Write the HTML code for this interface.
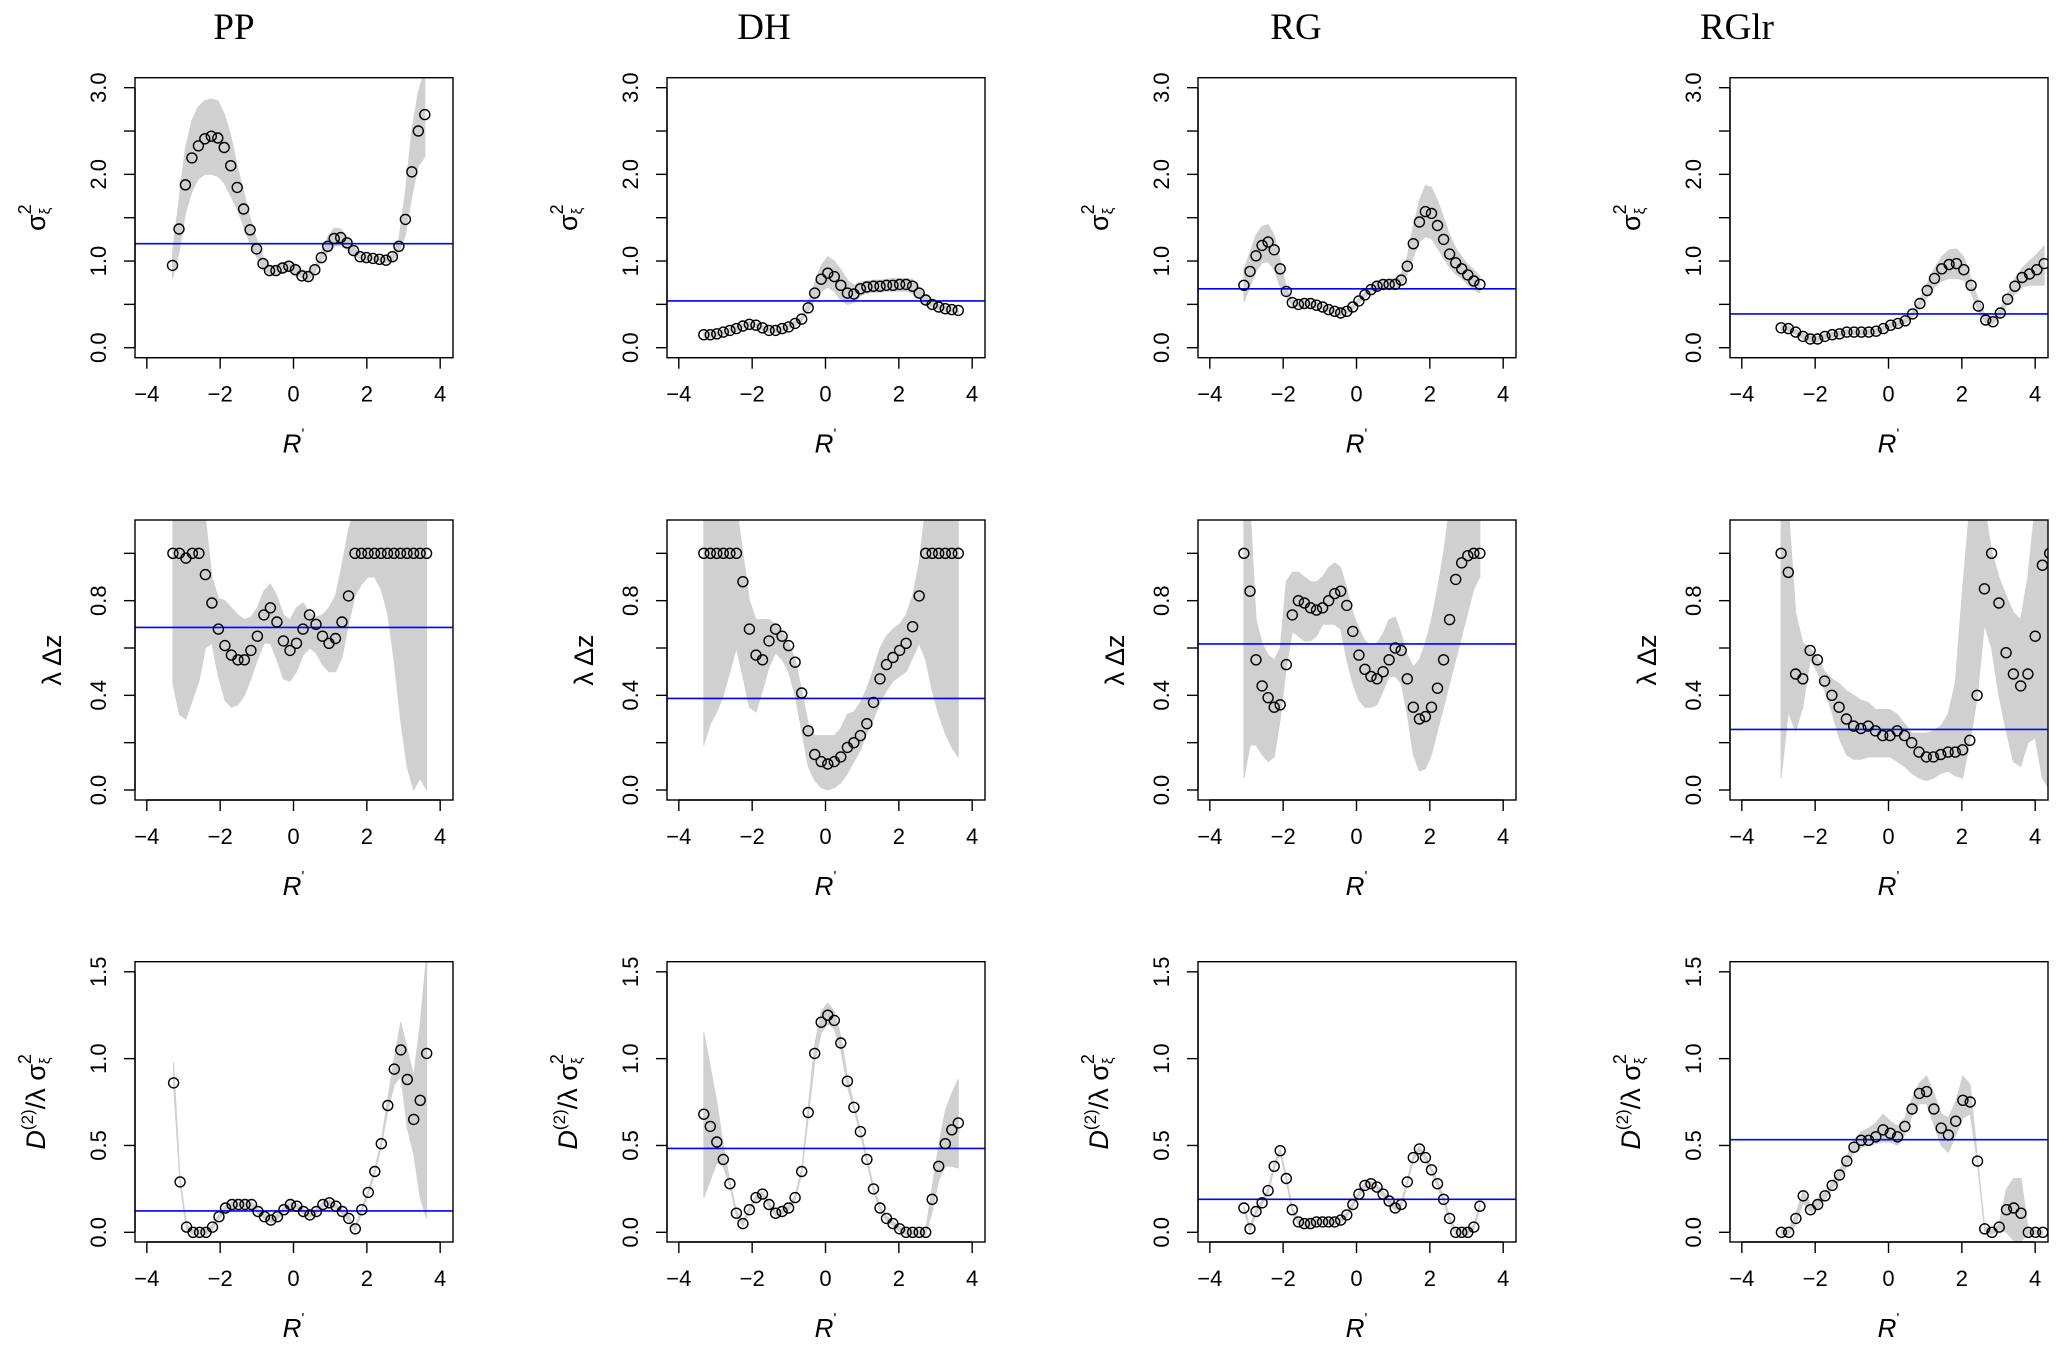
<!DOCTYPE html>
<html><head><meta charset="utf-8"><style>
html,body{margin:0;padding:0;background:#fff;}
svg{display:block;font-family:"Liberation Sans",sans-serif;}
</style></head>
<body>
<svg id="fig" width="2067" height="1347" viewBox="0 0 2067 1347" xmlns="http://www.w3.org/2000/svg"></svg>
<script>
// ---------- data ----------
const columns = ["PP","DH","RG","RGlr"];
const colLefts = [135, 667, 1198, 1730];
const rowTops = [77.7, 520, 961.7];

// row 1: sigma^2_xi
const pp1_x0 = -3.30, pp1_step = 0.1764;
const pp1_y = [0.95,1.37,1.88,2.19,2.33,2.41,2.44,2.42,2.31,2.10,1.85,1.60,1.36,1.14,0.97,0.89,0.89,0.92,0.94,0.90,0.83,0.82,0.90,1.04,1.17,1.26,1.27,1.21,1.12,1.05,1.04,1.03,1.02,1.01,1.05,1.17,1.48,2.03,2.50,2.69];
const pp1_hi = [1.1,1.7,2.3,2.62,2.78,2.85,2.87,2.85,2.7,2.45,2.1,1.8,1.5,1.25,1.05,0.95,0.95,0.98,1.0,0.97,0.9,0.88,0.95,1.1,1.28,1.38,1.37,1.28,1.17,1.08,1.06,1.05,1.04,1.03,1.08,1.25,1.8,2.5,2.95,3.2];
const pp1_lo = [0.8,1.1,1.55,1.8,1.95,2.0,2.0,1.98,1.9,1.75,1.6,1.4,1.2,1.05,0.9,0.85,0.85,0.87,0.88,0.85,0.8,0.78,0.86,1.0,1.1,1.17,1.18,1.13,1.07,1.02,1.01,1.0,0.99,0.98,1.0,1.1,1.3,1.75,2.1,2.2];
const pp1_ref = 1.20;

const dh1_x0 = -3.32, dh1_step = 0.178;
const dh1_y = [0.15,0.15,0.16,0.18,0.20,0.22,0.25,0.27,0.26,0.23,0.20,0.20,0.22,0.24,0.28,0.33,0.46,0.63,0.79,0.86,0.82,0.72,0.63,0.62,0.68,0.70,0.71,0.71,0.72,0.72,0.73,0.73,0.71,0.63,0.55,0.50,0.47,0.45,0.44,0.43];
const dh1_hi = [null,null,null,null,null,null,null,null,null,null,null,null,null,null,null,0.36,0.52,0.75,0.95,1.05,1.0,0.9,0.78,0.72,0.76,0.77,0.78,0.78,0.79,0.8,0.8,0.8,0.79,0.7,0.6,0.53,null,null,null,null];
const dh1_lo = [null,null,null,null,null,null,null,null,null,null,null,null,null,null,null,0.30,0.42,0.55,0.65,0.7,0.65,0.55,0.5,0.52,0.6,0.63,0.64,0.64,0.65,0.65,0.65,0.65,0.63,0.57,0.5,0.47,null,null,null,null];
const dh1_ref = 0.54;

const rg1_x0 = -3.07, rg1_step = 0.165;
const rg1_y = [0.72,0.88,1.06,1.18,1.22,1.13,0.91,0.65,0.52,0.50,0.51,0.51,0.49,0.47,0.44,0.42,0.40,0.42,0.47,0.54,0.61,0.67,0.71,0.73,0.73,0.73,0.78,0.94,1.20,1.45,1.57,1.55,1.41,1.25,1.08,0.98,0.91,0.84,0.77,0.73];
const rg1_hi = [0.9,1.1,1.3,1.4,1.42,1.3,1.0,0.7,null,null,null,null,null,null,null,null,null,null,null,null,null,null,0.76,0.78,0.79,0.8,0.85,1.05,1.4,1.7,1.87,1.85,1.7,1.5,1.3,1.15,1.05,0.96,0.9,0.82];
const rg1_lo = [0.53,0.7,0.88,0.98,0.99,0.9,0.7,0.58,null,null,null,null,null,null,null,null,null,null,null,null,null,null,0.66,0.68,0.68,0.68,0.72,0.85,1.05,1.22,1.28,1.26,1.15,1.03,0.93,0.85,0.8,0.73,0.67,0.63];
const rg1_ref = 0.68;

const rl1_x0 = -2.93, rl1_step = 0.1993;
const rl1_y = [0.23,0.22,0.18,0.13,0.10,0.10,0.13,0.15,0.16,0.18,0.18,0.18,0.18,0.19,0.22,0.26,0.28,0.31,0.39,0.51,0.66,0.80,0.91,0.96,0.97,0.90,0.72,0.48,0.32,0.30,0.40,0.56,0.71,0.81,0.85,0.90,0.97];
const rl1_hi = [null,null,null,null,null,null,null,null,null,null,null,null,null,null,null,null,null,0.33,0.42,0.56,0.74,0.92,1.05,1.13,1.14,1.05,0.8,0.55,0.37,0.35,0.45,0.62,0.8,0.92,1.0,1.08,1.17];
const rl1_lo = [null,null,null,null,null,null,null,null,null,null,null,null,null,null,null,null,null,0.29,0.36,0.47,0.58,0.7,0.77,0.8,0.8,0.78,0.63,0.42,0.28,0.27,0.36,0.5,0.62,0.7,0.72,0.72,0.72];
const rl1_ref = 0.39;

// row 2: lambda delta z
const pp2_x0 = -3.29, pp2_step = 0.1774;
const pp2_y = [1,1,0.98,1,1,0.91,0.79,0.68,0.61,0.57,0.55,0.55,0.59,0.65,0.74,0.77,0.71,0.63,0.59,0.62,0.68,0.74,0.70,0.65,0.62,0.64,0.71,0.82,1,1,1,1,1,1,1,1,1,1,1,1];
const pp2_hi = [1.2,1.2,1.2,1.2,1.2,1.15,0.90,0.81,0.80,0.77,0.74,0.72,0.73,0.77,0.84,0.87,0.82,0.74,0.72,0.77,0.79,0.75,0.73,0.74,0.77,0.82,0.95,1.1,1.2,1.2,1.2,1.2,1.2,1.2,1.2,1.2,1.2,1.2,1.2,1.2];
const pp2_lo = [0.45,0.32,0.30,0.38,0.46,0.6,0.62,0.48,0.38,0.35,0.36,0.40,0.47,0.55,0.62,0.62,0.55,0.47,0.46,0.50,0.57,0.60,0.58,0.53,0.50,0.50,0.56,0.70,0.82,0.87,0.90,0.90,0.85,0.75,0.55,0.30,0.10,0.0,0.05,0.0];
const pp2_ref = 0.687;

const dh2_x0 = -3.32, dh2_step = 0.178;
const dh2_y = [1,1,1,1,1,1,0.88,0.68,0.57,0.55,0.63,0.68,0.65,0.61,0.54,0.41,0.25,0.15,0.12,0.11,0.12,0.14,0.18,0.20,0.23,0.28,0.37,0.47,0.53,0.56,0.59,0.62,0.69,0.82,1,1,1,1,1,1];
const dh2_hi = [1.2,1.2,1.2,1.2,1.2,1.2,1.0,0.80,0.72,0.72,0.72,0.70,0.67,0.60,0.52,0.40,0.28,0.23,0.23,0.23,0.23,0.26,0.32,0.33,0.37,0.43,0.51,0.60,0.65,0.68,0.70,0.74,0.82,0.96,1.2,1.2,1.2,1.2,1.2,1.2];
const dh2_lo = [0.19,0.28,0.33,0.40,0.50,0.60,0.48,0.35,0.33,0.42,0.52,0.58,0.55,0.50,0.40,0.25,0.10,0.04,0.01,0.0,0.01,0.03,0.07,0.12,0.17,0.24,0.30,0.37,0.42,0.46,0.48,0.50,0.56,0.62,0.55,0.42,0.32,0.24,0.18,0.14];
const dh2_ref = 0.387;

const rg2_x0 = -3.07, rg2_step = 0.165;
const rg2_y = [1.0,0.84,0.55,0.44,0.39,0.35,0.36,0.53,0.74,0.80,0.79,0.77,0.76,0.77,0.80,0.83,0.84,0.78,0.67,0.57,0.51,0.48,0.47,0.50,0.55,0.60,0.59,0.47,0.35,0.30,0.31,0.35,0.43,0.55,0.72,0.89,0.96,0.99,1.0,1.0];
const rg2_hi = [1.2,1.2,0.72,0.62,0.57,0.55,0.60,0.88,0.92,0.92,0.90,0.88,0.88,0.90,0.94,0.96,0.94,0.85,0.75,0.68,0.63,0.61,0.62,0.66,0.72,0.73,0.66,0.57,0.52,0.55,0.62,0.72,0.85,1.0,1.2,1.2,1.2,1.2,1.2,1.2];
const rg2_lo = [0.05,0.19,0.19,0.15,0.12,0.14,0.30,0.55,0.67,0.65,0.63,0.63,0.65,0.70,0.70,0.70,0.68,0.55,0.45,0.38,0.35,0.35,0.36,0.42,0.48,0.48,0.45,0.32,0.15,0.08,0.09,0.15,0.25,0.35,0.45,0.55,0.65,0.75,0.85,0.9];
const rg2_ref = 0.617;

const rl2_x0 = -2.93, rl2_step = 0.198;
const rl2_y = [1.0,0.92,0.49,0.47,0.59,0.55,0.46,0.40,0.35,0.30,0.27,0.26,0.27,0.25,0.23,0.23,0.25,0.23,0.20,0.16,0.14,0.14,0.15,0.16,0.16,0.17,0.21,0.40,0.85,1.0,0.79,0.58,0.49,0.44,0.49,0.65,0.95,1.0];
const rl2_hi = [1.2,1.2,0.75,0.62,0.60,0.55,0.50,0.47,0.45,0.42,0.40,0.38,0.37,0.34,0.34,0.34,0.32,0.28,0.24,0.24,0.24,0.25,0.27,0.32,0.45,0.85,1.2,1.2,1.2,0.95,0.90,0.82,0.75,0.72,0.90,1.2,1.2,1.2];
const rl2_lo = [0.05,0.33,0.25,0.35,0.55,0.50,0.42,0.33,0.22,0.15,0.13,0.13,0.14,0.14,0.14,0.14,0.12,0.10,0.07,0.05,0.04,0.05,0.07,0.08,0.06,0.05,0.45,0.55,0.70,0.60,0.40,0.25,0.12,0.10,0.20,0.22,0.05,0.0];
const rl2_ref = 0.256;

// row 3: D(2)/lambda sigma^2
const pp3_x0 = -3.27, pp3_step = 0.177;
const pp3_y = [0.86,0.29,0.03,0,0,0,0.03,0.09,0.14,0.16,0.16,0.16,0.16,0.12,0.09,0.07,0.09,0.13,0.16,0.15,0.12,0.10,0.12,0.16,0.17,0.15,0.12,0.08,0.02,0.13,0.23,0.35,0.51,0.73,0.94,1.05,0.88,0.65,0.76,1.03];
const pp3_hi = [0.98,null,null,null,null,null,null,null,null,null,null,null,null,null,null,null,null,null,null,null,null,null,null,null,null,null,null,null,null,null,null,null,null,0.77,1.0,1.21,1.05,0.9,1.2,1.6];
const pp3_lo = [0.84,null,null,null,null,null,null,null,null,null,null,null,null,null,null,null,null,null,null,null,null,null,null,null,null,null,null,null,null,null,null,null,null,0.7,0.85,0.9,0.6,0.45,0.2,0.08];
const pp3_ref = 0.123;

const dh3_x0 = -3.32, dh3_step = 0.178;
const dh3_y = [0.68,0.61,0.52,0.42,0.28,0.11,0.05,0.13,0.20,0.22,0.16,0.11,0.12,0.14,0.20,0.35,0.69,1.03,1.21,1.25,1.22,1.09,0.87,0.72,0.58,0.42,0.25,0.14,0.08,0.05,0.02,0,0,0,0,0.19,0.38,0.51,0.59,0.63];
const dh3_hi = [1.15,0.95,0.75,0.5,null,null,null,null,null,null,null,null,null,null,null,null,0.72,1.08,1.27,1.32,1.27,1.13,0.9,null,null,null,null,null,null,null,null,null,null,null,null,0.26,0.5,0.7,0.8,0.88];
const dh3_lo = [0.2,0.3,0.4,0.38,null,null,null,null,null,null,null,null,null,null,null,null,0.66,0.98,1.15,1.2,1.17,1.05,0.84,null,null,null,null,null,null,null,null,null,null,null,null,0.12,0.3,0.38,0.38,0.37];
const dh3_ref = 0.483;

const rg3_x0 = -3.07, rg3_step = 0.165;
const rg3_y = [0.14,0.02,0.12,0.17,0.24,0.38,0.47,0.31,0.13,0.06,0.05,0.05,0.06,0.06,0.06,0.06,0.07,0.10,0.16,0.22,0.27,0.28,0.26,0.22,0.18,0.14,0.16,0.29,0.43,0.48,0.43,0.36,0.28,0.19,0.08,0,0,0,0.03,0.15];
const rg3_hi = rg3_y.map(() => null);
const rg3_lo = rg3_y.map(() => null);
const rg3_ref = 0.19;

const rl3_x0 = -2.92, rl3_step = 0.198;
const rl3_y = [0,0,0.08,0.21,0.13,0.16,0.21,0.27,0.33,0.41,0.49,0.53,0.53,0.55,0.59,0.57,0.55,0.61,0.71,0.80,0.81,0.71,0.60,0.56,0.64,0.76,0.75,0.41,0.02,0,0.03,0.13,0.14,0.11,0,0,0];
const rl3_hi = [null,null,0.11,0.24,0.16,0.19,0.23,0.29,0.36,0.44,0.53,0.58,0.6,0.63,0.68,0.64,0.61,0.66,0.77,0.86,0.9,0.8,0.68,0.66,0.75,0.9,0.85,null,null,null,0.05,0.25,0.31,0.31,null,null,null];
const rl3_lo = [null,null,0.05,0.17,0.12,0.14,0.19,0.25,0.3,0.38,0.46,0.49,0.5,0.51,0.52,0.52,0.5,0.56,0.67,0.74,0.74,0.62,0.5,0.46,0.56,0.66,0.68,null,null,null,0.03,0.0,-0.05,-0.05,null,null,null];
const rl3_ref = 0.533;

const xTicks = [-4,-2,0,2,4];
const row1Ticks = [0,0.5,1,1.5,2,2.5,3]; const row1Labels = ["0.0","","1.0","","2.0","","3.0"];
const row2Ticks = [0,0.2,0.4,0.6,0.8,1.0]; const row2Labels = ["0.0","","0.4","","0.8",""];
const row3Ticks = [0,0.5,1,1.5]; const row3Labels = ["0.0","0.5","1.0","1.5"];

// ---------- layout ----------
const NS = "http://www.w3.org/2000/svg";
const svg = document.getElementById("fig");
const BOXW = 318, XZERO = 158.5, XPU = 36.67;
const rows = [
  {h:280, zero:270, pu:86.67, ticks:row1Ticks, labels:row1Labels, name:"sigma"},
  {h:280, zero:270, pu:236.67, ticks:row2Ticks, labels:row2Labels, name:"lambda-dz"},
  {h:280.3, zero:270.6, pu:173.67, ticks:row3Ticks, labels:row3Labels, name:"d2-ratio"}
];
const panels = [
  [[pp1_x0,pp1_step,pp1_y,pp1_lo,pp1_hi,pp1_ref],[dh1_x0,dh1_step,dh1_y,dh1_lo,dh1_hi,dh1_ref],[rg1_x0,rg1_step,rg1_y,rg1_lo,rg1_hi,rg1_ref],[rl1_x0,rl1_step,rl1_y,rl1_lo,rl1_hi,rl1_ref]],
  [[pp2_x0,pp2_step,pp2_y,pp2_lo,pp2_hi,pp2_ref],[dh2_x0,dh2_step,dh2_y,dh2_lo,dh2_hi,dh2_ref],[rg2_x0,rg2_step,rg2_y,rg2_lo,rg2_hi,rg2_ref],[rl2_x0,rl2_step,rl2_y,rl2_lo,rl2_hi,rl2_ref]],
  [[pp3_x0,pp3_step,pp3_y,pp3_lo,pp3_hi,pp3_ref],[dh3_x0,dh3_step,dh3_y,dh3_lo,dh3_hi,dh3_ref],[rg3_x0,rg3_step,rg3_y,rg3_lo,rg3_hi,rg3_ref],[rl3_x0,rl3_step,rl3_y,rl3_lo,rl3_hi,rl3_ref]]
];
const titleX = [234, 764, 1296, 1737];

function el(tag, attrs, parent){
  const e = document.createElementNS(NS, tag);
  for (const k in attrs) e.setAttribute(k, attrs[k]);
  (parent||svg).appendChild(e);
  return e;
}

columns.forEach((c,i)=>{
  const t = el("text",{x:titleX[i], y:39, "text-anchor":"middle", "font-family":"'Liberation Serif',serif", "font-size":37, fill:"#000"});
  
  
  t.textContent = c;
});

const defs = el("defs",{});
rows.forEach((row, r)=>{
  columns.forEach((c, ci)=>{
    const L = colLefts[ci], T = rowTops[r], B = T + row.h;
    const sx = v => L + XZERO + v*XPU;
    const sy = v => T + row.zero - v*row.pu;
    const g = el("g",{});
    
    
    const cp = el("clipPath",{id:"cp"+r+ci}, defs);
    el("rect",{x:L, y:T, width:BOXW, height:row.h}, cp);
    const [x0, step, ys, lo, hi, ref] = panels[r][ci];
    const xs = ys.map((_,i)=> x0 + i*step);
    const HW = 2.5;
    const up = ys.map((v,i)=> [sx(xs[i]), hi[i]==null ? sy(v)-HW : Math.min(sy(hi[i]), sy(v)-HW)]);
    const dn = ys.map((v,i)=> [sx(xs[i]), lo[i]==null ? sy(v)+HW : Math.max(sy(lo[i]), sy(v)+HW)]);
    const pts = up.concat(dn.reverse()).map(p=>p[0].toFixed(1)+","+p[1].toFixed(1)).join(" ");
    const band = el("polygon",{points:pts, fill:"#d0d0d0", stroke:"#d0d0d0", "stroke-width":1, "clip-path":"url(#cp"+r+ci+")"}, g);
    
    
    const rl = el("line",{x1:L, x2:L+BOXW, y1:sy(ref), y2:sy(ref), stroke:"#0000ff", "stroke-width":1.6}, g);
    
    
    const pg = el("g",{"clip-path":"url(#cp"+r+ci+")"}, g);
    ys.forEach((v,i)=>{
      const ccl = el("circle",{cx:sx(xs[i]).toFixed(1), cy:sy(v).toFixed(1), r:5, fill:"none", stroke:"#000", "stroke-width":1.4}, pg);
      
      
    });
    const box = el("rect",{x:L, y:T, width:BOXW, height:row.h, fill:"none", stroke:"#000", "stroke-width":1.4}, g);
    
    
    const ya = el("g",{}, g);
    
    
    el("line",{x1:L, x2:L, y1:sy(row.ticks[0]), y2:sy(row.ticks[row.ticks.length-1]), stroke:"#000","stroke-width":1.4}, ya);
    row.ticks.forEach((t,k)=>{
      el("line",{x1:L-11, x2:L, y1:sy(t), y2:sy(t), stroke:"#000","stroke-width":1.4}, ya);
      if (row.labels[k]) {
        const tl = el("text",{x:L-29, y:sy(t), "text-anchor":"middle", "font-size":22, transform:"rotate(-90 "+(L-29)+" "+sy(t)+")"}, ya);
        
        
        tl.textContent = row.labels[k];
      }
    });
    const xa = el("g",{}, g);
    
    
    el("line",{x1:sx(xTicks[0]), x2:sx(xTicks[xTicks.length-1]), y1:B, y2:B, stroke:"#000","stroke-width":1.4}, xa);
    xTicks.forEach(t=>{
      el("line",{x1:sx(t), x2:sx(t), y1:B, y2:B+11, stroke:"#000","stroke-width":1.4}, xa);
      const tl = el("text",{x:sx(t), y:B+44, "text-anchor":"middle", "font-size":22}, xa);
      
      
      tl.textContent = (t<0 ? "\u2212"+(-t) : ""+t);
    });
    const xt = el("text",{x:L+XZERO, y:B+95, "text-anchor":"middle", "font-size":26}, g);
    
    
    xt.innerHTML = '<tspan font-style="italic">R</tspan><tspan font-size="15" dy="-14">\'</tspan>';
    const cy = T + row.h/2;
    let yx, html;
    if (r===0){ yx = L-90; html = '\u03c3<tspan font-size="18" dy="-14">2</tspan><tspan font-size="15" dx="-10" dy="19">\u03be</tspan>'; }
    else if (r===1){ yx = L-74; html = '\u03bb \u0394z'; }
    else { yx = L-90; html = '<tspan font-style="italic">D</tspan><tspan font-size="17" dy="-12">(2)</tspan><tspan dy="12">/\u03bb \u03c3</tspan><tspan font-size="18" dy="-14">2</tspan><tspan font-size="15" dx="-10" dy="19">\u03be</tspan>'; }
    const yt = el("text",{x:yx, y:cy, "text-anchor":"middle", "font-size":27, transform:"rotate(-90 "+yx+" "+cy+")"}, g);
    
    
    yt.innerHTML = html;
  });
});
</script>
</body></html>
